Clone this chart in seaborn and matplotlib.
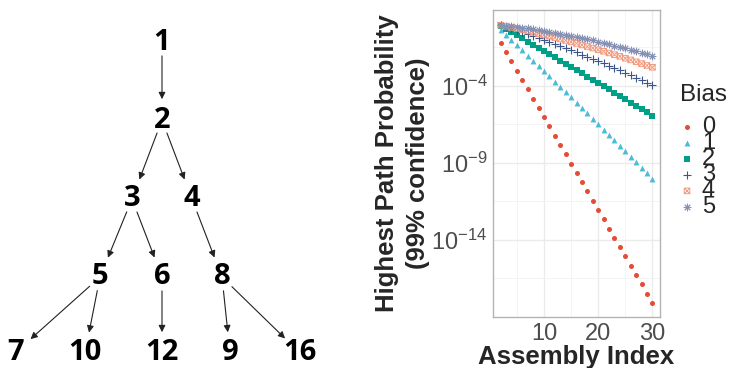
import matplotlib
matplotlib.use("Agg")
import matplotlib.pyplot as plt
from matplotlib.path import Path
from matplotlib.ticker import FixedLocator, NullFormatter
import seaborn as sns
import numpy as np
import pandas as pd

# ---- data ----
assembly_index = list(range(2, 31))
bias_levels = ["0", "1", "2", "3", "4", "5"]

# log10 of highest path probability, x = 2..30
log_p_bias0 = [-1.20, -1.80, -2.41, -3.01, -3.61, -4.22, -4.82, -5.42, -6.02, -6.63,
               -7.23, -7.83, -8.44, -9.04, -9.64, -10.25, -10.85, -11.45, -12.05, -12.66,
               -13.26, -13.86, -14.47, -15.07, -15.67, -16.28, -16.88, -17.48, -18.08]
log_p_bias1 = [-0.36, -0.69, -1.02, -1.36, -1.69, -2.03, -2.36, -2.70, -3.04, -3.38,
               -3.72, -4.06, -4.40, -4.75, -5.09, -5.44, -5.78, -6.13, -6.48, -6.83,
               -7.18, -7.53, -7.88, -8.24, -8.59, -8.95, -9.30, -9.66, -10.02]
log_p_bias2 = [-0.12, -0.32, -0.52, -0.72, -0.92, -1.12, -1.33, -1.53, -1.73, -1.94,
               -2.14, -2.35, -2.56, -2.76, -2.97, -3.18, -3.39, -3.60, -3.81, -4.02,
               -4.23, -4.44, -4.65, -4.87, -5.08, -5.29, -5.51, -5.72, -5.94]
log_p_bias3 = [-0.06, -0.17, -0.29, -0.41, -0.53, -0.65, -0.77, -0.90, -1.02, -1.15,
               -1.28, -1.41, -1.55, -1.68, -1.82, -1.96, -2.10, -2.24, -2.39, -2.54,
               -2.69, -2.84, -2.99, -3.14, -3.30, -3.46, -3.62, -3.78, -3.94]
log_p_bias4 = [-0.05, -0.12, -0.20, -0.27, -0.35, -0.43, -0.52, -0.60, -0.69, -0.77,
               -0.86, -0.95, -1.05, -1.14, -1.24, -1.34, -1.44, -1.54, -1.65, -1.75,
               -1.86, -1.97, -2.08, -2.20, -2.31, -2.43, -2.55, -2.67, -2.79]
log_p_bias5 = [-0.04, -0.08, -0.12, -0.17, -0.22, -0.27, -0.32, -0.37, -0.43, -0.49,
               -0.55, -0.61, -0.68, -0.75, -0.82, -0.89, -0.97, -1.05, -1.13, -1.21,
               -1.29, -1.38, -1.47, -1.56, -1.65, -1.75, -1.85, -1.95, -2.05]

y_ticks = [1e-4, 1e-9, 1e-14]
y_tick_labels = ["$10^{-4}$", "$10^{-9}$", "$10^{-14}$"]
x_ticks = [10, 20, 30]

# tree of assembly indices
tree_nodes = ["1", "2", "3", "4", "5", "6", "8", "7", "10", "12", "9", "16"]
tree_edges = [("1", "2"), ("2", "3"), ("2", "4"), ("3", "5"), ("3", "6"), ("4", "8"),
              ("5", "7"), ("5", "10"), ("6", "12"), ("8", "9"), ("8", "16")]

# layout of tree (pixel coords of left panel)
node_pos = {"1": (162, 42), "2": (162, 120), "3": (132, 199), "4": (192, 199),
            "5": (100, 277), "6": (162, 277), "8": (222, 277),
            "7": (15, 353), "10": (85, 353), "12": (162, 353), "9": (230, 353),
            "16": (300, 353)}

df = pd.DataFrame({
    "Assembly Index": assembly_index * 6,
    "logp": log_p_bias0 + log_p_bias1 + log_p_bias2 + log_p_bias3 + log_p_bias4 + log_p_bias5,
    "Bias": [b for b in bias_levels for _ in assembly_index],
})
df["p"] = 10 ** df["logp"]

sns.set_style("white")
plt.rcParams["font.family"] = ["Liberation Sans", "DejaVu Sans"]
plt.rcParams["mathtext.fontset"] = "custom"
plt.rcParams["mathtext.rm"] = "Liberation Sans"
plt.rcParams["mathtext.it"] = "Liberation Sans:italic"
plt.rcParams["mathtext.bf"] = "Liberation Sans:bold"

fig = plt.figure(figsize=(7.32, 3.68), dpi=100)

# ---- left: tree ----
axt = fig.add_axes([0, 0, 0.5, 1])
axt.set_xlim(0, 366)
axt.set_ylim(368, 0)
axt.axis("off")
for n in tree_nodes:
    x, y = node_pos[n]
    axt.text(x, y, n, ha="center", va="center", fontsize=21, fontweight="bold",
             family="Open Sans", color="black")
for a, b in tree_edges:
    axt.annotate("", xy=node_pos[b], xytext=node_pos[a],
                 arrowprops=dict(arrowstyle="-|>", color="#222222", lw=0.8,
                                 mutation_scale=10, shrinkA=10, shrinkB=15))

# ---- right: scatter ----
ax = fig.add_axes([493 / 732, 1 - 317 / 368, 167 / 732, 307 / 368])

palette = {"0": "#E64B35", "1": "#4DBBD5", "2": "#00A087",
           "3": "#3C5488", "4": "#F39B7F", "5": "#8491B4"}
sq_cross = Path([(-1, -1), (1, -1), (1, 1), (-1, 1), (-1, -1), (-1, -1), (1, 1), (-1, 1), (1, -1)],
                [Path.MOVETO, Path.LINETO, Path.LINETO, Path.LINETO, Path.CLOSEPOLY,
                 Path.MOVETO, Path.LINETO, Path.MOVETO, Path.LINETO])
marker_kw = {
    "0": dict(marker="o", s=13, linewidth=0),
    "1": dict(marker="^", s=18, linewidth=0),
    "2": dict(marker="s", s=13, linewidth=0),
    "3": dict(marker="+", s=28, linewidth=0.8),
    "4": dict(marker=sq_cross, s=16, linewidth=0.7, facecolor="none"),
    "5": dict(marker=(8, 2, 0), s=24, linewidth=0.7),
}

for b in bias_levels:
    sub = df[df["Bias"] == b]
    kw = dict(marker_kw[b])
    if b == "4":
        kw["edgecolor"] = palette[b]
    sns.scatterplot(data=sub, x="Assembly Index", y="p", ax=ax, color=palette[b],
                    label=b, **kw)

ax.set_yscale("log")
ax.set_xlim(0.6, 31.4)
ax.set_ylim(10 ** -19.0, 10 ** 0.93)
ax.set_xticks(x_ticks)
ax.set_xticklabels([str(t) for t in x_ticks])
ax.set_yticks(y_ticks)
ax.set_yticklabels(y_tick_labels)
ax.xaxis.set_minor_locator(FixedLocator([5, 15, 25]))
ax.yaxis.set_minor_locator(FixedLocator([10 ** -1.5, 10 ** -6.5, 10 ** -11.5, 10 ** -16.5]))
ax.yaxis.set_minor_formatter(NullFormatter())
ax.grid(which="major", color="#EBEBEB", lw=1.0)
ax.grid(which="minor", color="#F2F2F2", lw=0.6)
ax.set_axisbelow(True)
ax.tick_params(which="major", length=3, width=0.8, color="#555555",
               labelsize=17, labelcolor="#4D4D4D", pad=1)
ax.tick_params(which="minor", length=0)
for sp in ax.spines.values():
    sp.set_color("#B3B3B3")
    sp.set_linewidth(1.0)

ax.set_xlabel("Assembly Index", fontsize=18.5, fontweight="bold", labelpad=0)
ax.set_ylabel("Highest Path Probability\n(99% confidence)", fontsize=18.5,
              fontweight="bold", linespacing=1.38, labelpad=1)

handles, labels = ax.get_legend_handles_labels()
ax.get_legend().remove()
fig.text(680 / 732, 1 - 95 / 368, "Bias", fontsize=17.5, ha="left", va="center")
leg = fig.legend(handles, labels, loc="upper left",
                 bbox_to_anchor=(677.6 / 732, 1 - 115.7 / 368), frameon=False,
                 fontsize=17, labelspacing=-0.25,
                 handletextpad=0.23, handlelength=0.8, borderpad=0, borderaxespad=0)

fig.savefig("out.png", dpi=100)
